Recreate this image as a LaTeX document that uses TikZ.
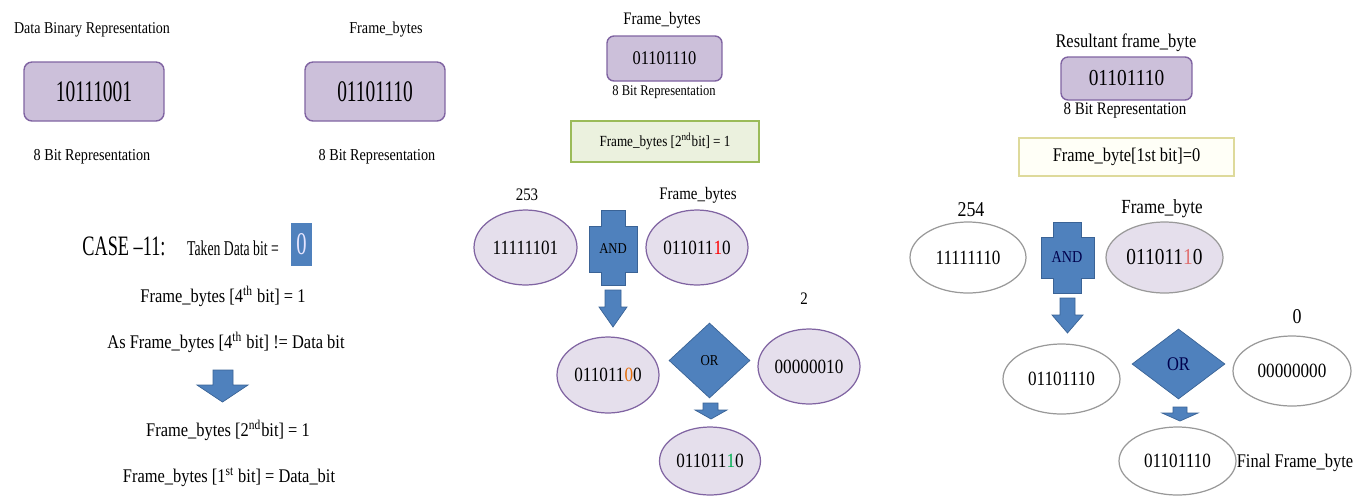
\documentclass[tikz,border=0pt]{standalone}
\usepackage{fontspec}
\setmainfont{Liberation Serif}[FakeStretch=0.85]
\newfontfamily\narrowfont{Liberation Serif}[FakeStretch=0.65,Ligatures=TeX]
\usepackage{tikz}
\usetikzlibrary{shapes.geometric,positioning}
\newcommand{\fsz}[1]{\fontsize{#1}{#1}\selectfont}
\definecolor{lavfill}{HTML}{CCC0DA}
\definecolor{lavline}{HTML}{8064A2}
\definecolor{ellfill}{HTML}{E5DFEC}
\definecolor{opblue}{HTML}{4F81BD}
\definecolor{opline}{HTML}{3A6396}
\definecolor{grnfill}{HTML}{EBF1DE}
\definecolor{grnline}{HTML}{9BBB59}
\definecolor{bitorange}{HTML}{E36C09}
\definecolor{bitgreen}{HTML}{00B050}
\definecolor{bitpink}{HTML}{E07070}

\begin{document}
\begin{tikzpicture} [x=0.02cm,y=-0.02cm,{bytebox/.style={rectangle,rounded corners=0.16cm,draw=lavline,fill=lavfill,line width=0.8pt,inner sep=0pt}},{bitell/.style={ellipse,draw=lavline,fill=ellfill,line width=0.7pt,inner sep=0pt,font=\fsz{11.5}}},{plainell/.style={ellipse,draw=gray!80,fill=white,line width=0.7pt,inner sep=0pt,font=\fsz{11.5}}},{blk/.style={fill=opblue,draw=opline,line width=0.4pt}},{opdia/.style={diamond,fill=opblue,draw=opline,line width=0.4pt,inner sep=0pt}},{txt/.style={inner sep=0pt}}]
	\useasboundingbox (0,0) rectangle (1357,495);

	%%panel 1 : data and frame byte
	\node [txt,font=\fsz{9.4}] (datatitle) at (92,30) {Data Binary Representation};
	\node [bytebox,minimum width=2.8cm,minimum height=1.18cm] (databox) at (94,91.5) {\narrowfont\fsz{17}10111001};
	\node [txt,font=\fsz{9.5}] (datarep) at (92,157) {8 Bit Representation};
	\node [txt,font=\fsz{9.5}] (frametitle) at (386,30) {Frame\_bytes};
	\node [bytebox,minimum width=2.8cm,minimum height=1.18cm] (framebox) at (375,91.5) {\narrowfont\fsz{17}01101110\hspace{0.28cm}};
	\node [txt,font=\fsz{9.5}] (framerep) at (377,157) {8 Bit Representation};

	%%case
	\node [txt,font=\narrowfont\fsz{16}] (case) at (124,246) {CASE --11:};
	\node [txt,font=\narrowfont\fsz{12}] (taken) at (233,248) {Taken Data bit =};
	\node [rectangle,fill=opblue,minimum width=0.42cm,minimum height=0.86cm,inner sep=0pt,text=blue!10,font=\narrowfont\fsz{18}] (takenbit) at (301.5,244.5) {0};
	\node [txt,font=\fsz{11}] (fourth) at (223,296) {Frame\_bytes [4\textsuperscript{th} bit] = 1};
	\node [txt,font=\fsz{11}] (notequal) at (226,342) {As Frame\_bytes [4\textsuperscript{th} bit] != Data bit};
	\draw [blk] (213,370) -- (233,370) -- (233,385) -- (248,385) -- (222.5,402) -- (197,385) -- (213,385) -- cycle;
	\node [txt,font=\fsz{11}] (second) at (228,430) {Frame\_bytes [2\textsuperscript{nd}bit] = 1};
	\node [txt,font=\fsz{11}] (first) at (229,477) {Frame\_bytes [1\textsuperscript{st} bit] = Data\_bit};

	%%panel 2 : set 2nd bit
	\node [txt,font=\fsz{10}] (ftitle2) at (662,20) {Frame\_bytes};
	\node [bytebox,rounded corners=0.14cm,minimum width=2.3cm,minimum height=0.9cm,font=\fsz{11}] (fbox2) at (664.5,58.5) {01101110};
	\node [txt,font=\fsz{8.4}] (frep2) at (664,92) {8 Bit Representation};
	\node [rectangle,draw=grnline,fill=grnfill,line width=0.8pt,minimum width=3.76cm,minimum height=0.82cm,font=\fsz{8.8}] (cond2) at (665,141.5) {Frame\_bytes [2\textsuperscript{nd}bit] = 1};

	\node [bitell,minimum width=2.06cm,minimum height=1.5cm] (mask2) at (525.5,247.5) {11111101};
	\node [txt,font=\fsz{10}] (masklbl2) at (527,195) {253};
	\draw [blk] (601,210) -- (625,210) -- (625,226) -- (637,226) -- (637,272) -- (625,272) -- (625,285) -- (601,285) -- (601,272) -- (589,272) -- (589,226) -- (601,226) -- cycle;
	\node [txt,font=\fsz{8.5}] (and2) at (613,249) {AND};
	\node [bitell,minimum width=2.04cm,minimum height=1.5cm] (fell2) at (697,247.5) {011011\textcolor{red}{1}0};
	\node [txt,font=\fsz{10}] (flbl2) at (698,195) {Frame\_bytes};
	\draw [blk] (605,290) -- (621,290) -- (621,307) -- (627,307) -- (613,327) -- (599,307) -- (605,307) -- cycle;
	\node [bitell,minimum width=2.04cm,minimum height=1.52cm] (andres2) at (608,375) {011011\textcolor{bitorange}{0}0};
	\node [opdia,minimum width=1.62cm,minimum height=1.5cm,font=\fsz{8.6}] (or2) at (709.5,360.5) {OR};
	\node [bitell,minimum width=2.04cm,minimum height=1.5cm] (orval2) at (809,366.5) {00000010};
	\node [txt,font=\fsz{10}] (orlbl2) at (804,299) {2};
	\draw [blk] (703,403) -- (718,403) -- (718,410) -- (727,410) -- (711,419) -- (695,410) -- (703,410) -- cycle;
	\node [bitell,minimum width=2.02cm,minimum height=1.36cm] (final2) at (710,461) {011011\textcolor{bitgreen}{1}0};

	%%panel 3 : clear 1st bit
	\node [txt,font=\fsz{11}] (ftitle3) at (1126,43) {Resultant frame\_byte};
	\node [bytebox,rounded corners=0.14cm,minimum width=2.62cm,minimum height=0.86cm,font=\fsz{13}] (fbox3) at (1126.5,78.5) {01101110};
	\node [txt,font=\fsz{10}] (frep3) at (1125,111) {8 Bit Representation};
	\node [rectangle,draw=olive!30,fill=yellow!3,line width=0.8pt,minimum width=4.3cm,minimum height=0.76cm,font=\fsz{11}] (cond3) at (1126.5,157) {Frame\_byte[1st bit]=0};

	\node [plainell,minimum width=2.32cm,minimum height=1.42cm] (mask3) at (968,257.5) {11111110};
	\node [txt,font=\fsz{12}] (masklbl3) at (971,210) {254};
	\draw [blk] (1053,222) -- (1081,222) -- (1081,237) -- (1094,237) -- (1094,278) -- (1081,278) -- (1081,293) -- (1053,293) -- (1053,278) -- (1041,278) -- (1041,237) -- (1053,237) -- cycle;
	\node [txt,font=\fsz{9.5},text=blue!30!black] (and3) at (1067,257) {AND};
	\node [plainell,fill=ellfill,minimum width=2.34cm,minimum height=1.42cm,font=\fsz{13}] (fell3) at (1164.5,257.5) {011011\textcolor{bitpink}{1}0};
	\node [txt,font=\fsz{11.4}] (flbl3) at (1162,209) {Frame\_byte};
	\draw [blk] (1060,298) -- (1075,298) -- (1075,315) -- (1083,315) -- (1067.5,333) -- (1052,315) -- (1060,315) -- cycle;
	\node [plainell,minimum width=2.34cm,minimum height=1.4cm] (andres3) at (1061.5,379) {01101110};
	\node [opdia,minimum width=1.86cm,minimum height=1.4cm,font=\fsz{11},text=blue!30!black] (or3) at (1178.5,364) {OR};
	\node [plainell,minimum width=2.36cm,minimum height=1.4cm] (orval3) at (1292,371) {00000000};
	\node [txt,font=\fsz{12}] (orlbl3) at (1297,317) {0};
	\draw [blk] (1173,407) -- (1187,407) -- (1187,413) -- (1198,413) -- (1180,421) -- (1162,413) -- (1173,413) -- cycle;
	\node [plainell,minimum width=2.34cm,minimum height=1.36cm] (final3) at (1177.5,461) {01101110};
	\node [txt,font=\fsz{11}] (finallbl3) at (1295,463) {Final Frame\_byte};
\end{tikzpicture}
\end{document}
